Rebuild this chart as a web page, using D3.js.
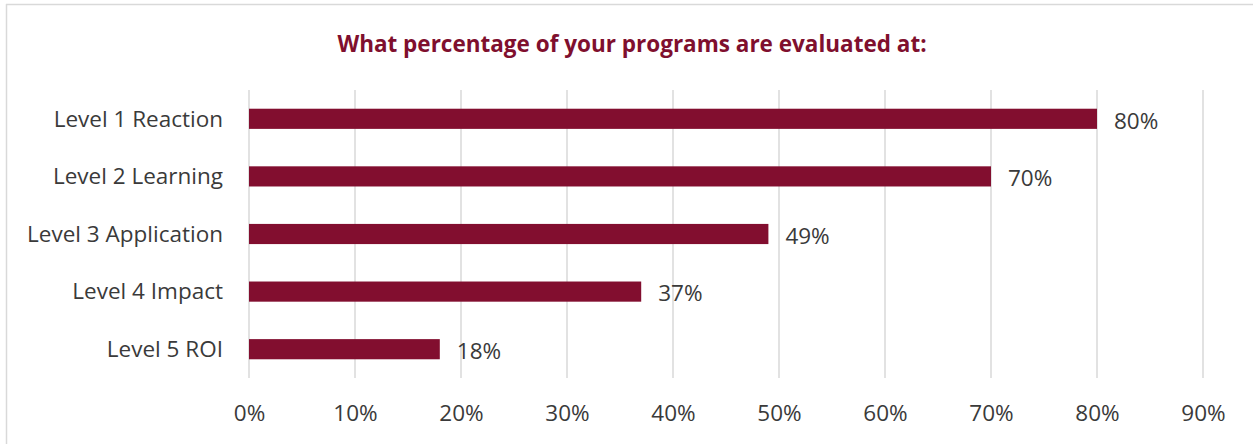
<!DOCTYPE html>
<html><head><meta charset="utf-8">
<script src="https://cdn.jsdelivr.net/npm/d3@7"></script>
<style>
html,body{margin:0;padding:0;background:#fff;}
svg{display:block;}
</style></head>
<body>
<svg id="chart" width="1253" height="444"></svg>
<script>
const categories = ["Level 1 Reaction","Level 2 Learning","Level 3 Application","Level 4 Impact","Level 5 ROI"];
const values = [80, 70, 49, 37, 18];
const tickValues = [0,10,20,30,40,50,60,70,80,90];
const title = "What percentage of your programs are evaluated at:";

(function(){
const svg = d3.select("#chart");
const W = 1253, H = 444;
const font = "'Open Sans', 'Noto Sans', sans-serif";
const barColor = "#820e2f";
const textColor = "#3a3a3a";
const fs = 22.5;

// frame
svg.append("line").attr("x1",6.5).attr("x2",6.5).attr("y1",4).attr("y2",H).attr("stroke","#d9d9d9").attr("stroke-width",1.5);
svg.append("line").attr("x1",6).attr("x2",W).attr("y1",4.5).attr("y2",4.5).attr("stroke","#d9d9d9").attr("stroke-width",1.5);

const pLeft = 249, pRight = 1203, pTop = 90, pBottom = 378;
const x = d3.scaleLinear().domain([0,90]).range([pLeft,pRight]);
const y = d3.scaleBand().domain(categories).range([pTop,pBottom]).paddingInner(0.65).paddingOuter(0.325);

svg.append("text").attr("x", 632).attr("y", 52).attr("text-anchor","middle")
  .attr("font-family", font).attr("font-weight","bold").attr("font-size",22.5)
  .attr("fill","#7f0f2e").text(title);

// gridlines
svg.append("g").selectAll("line").data(tickValues).join("line")
  .attr("x1",d=>x(d)).attr("x2",d=>x(d)).attr("y1",pTop).attr("y2",pBottom)
  .attr("stroke","#d9d9d9").attr("stroke-width",1.5);

// x axis
const xAxis = d3.axisBottom(x).tickValues(tickValues).tickFormat(d=>d+"%").tickSize(0).tickPadding(0);
const gx = svg.append("g").attr("transform",`translate(0,${pBottom})`).call(xAxis);
gx.select(".domain").remove();
gx.selectAll("text").attr("font-family",font).attr("font-size",fs).attr("fill",textColor).attr("dy",0).attr("y",43);

// y axis
const yAxis = d3.axisLeft(y).tickSize(0).tickPadding(26);
const gy = svg.append("g").attr("transform",`translate(${pLeft},0)`).call(yAxis);
gy.select(".domain").remove();
gy.selectAll("text").attr("font-family",font).attr("font-size",fs).attr("fill",textColor).attr("dy","0.35em");

// bars
svg.append("g").selectAll("rect").data(values).join("rect")
  .attr("x", x(0)).attr("y",(d,i)=>y(categories[i]))
  .attr("width", d=>x(d)-x(0)).attr("height", y.bandwidth())
  .attr("fill", barColor);

// value labels
svg.append("g").selectAll("text").data(values).join("text")
  .attr("x", d=>x(d)+17).attr("y",(d,i)=>y(categories[i])+y.bandwidth()/2+2)
  .attr("dy","0.35em")
  .attr("font-family",font).attr("font-size",fs).attr("fill",textColor)
  .text(d=>d+"%");
})();
</script>
</body></html>
